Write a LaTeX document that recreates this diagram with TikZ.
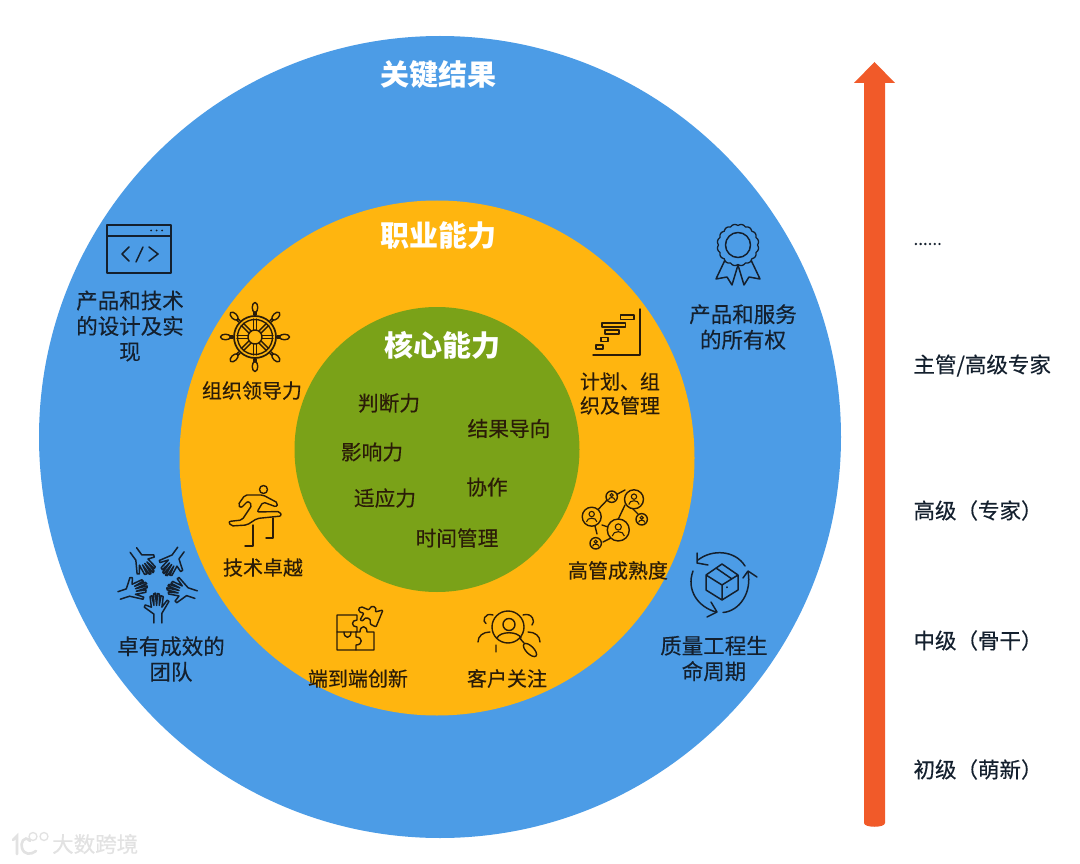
\documentclass[tikz,border=0pt]{standalone}
\usepackage{fontspec}
\setmainfont{Noto Sans CJK SC}[FakeBold=0.35,BoldFeatures={FakeBold=0}]
\definecolor{cblue}{HTML}{4C9CE6}
\definecolor{corange}{HTML}{FFB50F}
\definecolor{cgreen}{HTML}{7AA218}
\definecolor{carrow}{HTML}{F15A29}
\definecolor{navy}{HTML}{14202E}
\definecolor{brownk}{HTML}{2B1C08}
\definecolor{wm}{HTML}{E2E2E2}
\newcommand{\fs}[1]{\fontsize{#1}{#1}\selectfont}
\tikzset{
 ring/.style={circle,inner sep=0pt},
 title/.style={text=white,font=\fs{29}\bfseries},
 corelabel/.style={text=brownk,font=\fs{20.7}},
 midlabel/.style={text=brownk,font=\fs{20},align=center},
 outlabel/.style={text=navy,font=\fs{21.5},align=center},
 levellabel/.style={text=navy,font=\fs{21.5},anchor=west},
 navyicon/.style={draw=navy,line width=1.5pt,line join=round,line cap=round},
 brownicon/.style={draw=brownk,line width=1.4pt,line join=round,line cap=round},
 hand/.pic={
  \draw[navyicon] (-4,46)--(-4,36)--(-15,28)--(-14,25.5)--(-7,28)--(-8.5,16)--(-6.5,15)--(-4,26)
   --(-4.5,13)--(-2.5,12)--(-1,26)--(0,12.5)--(2,13)--(2,26)--(4,15)--(6.5,16)--(5,28)
   --(11,20)--(13,21.5)--(5,35)--(5,46);
 }
}
\newcommand{\netperson}[3]{% x y r
 \draw[brownicon,fill=corange] (#1,#2) circle (#3);
 \draw[brownk,line width=1.1pt] (#1,#2-0.28*#3) circle (0.28*#3);
 \draw[brownk,line width=1.1pt] (#1-0.55*#3,#2+0.55*#3) .. controls (#1-0.5*#3,#2+0.02*#3) and (#1+0.5*#3,#2+0.02*#3) .. (#1+0.55*#3,#2+0.55*#3);
}
\begin{document}
\begin{tikzpicture}[x=1pt,y=-1pt]
\useasboundingbox (0,0) rectangle (1080,864);
\fill[white] (0,0) rectangle (1080,864);
% rings
\node[ring,fill=cblue,minimum size=802pt] (outer) at (440,437) {};
\node[ring,fill=corange,minimum size=515pt] (middle) at (437,458) {};
\node[ring,fill=cgreen,minimum size=285pt] (core) at (437,449.5) {};
% titles
\node[title] (t1) at (438,75) {关键结果};
\node[title] (t2) at (438,236) {职业能力};
\node[title] (t3) at (442,345) {核心能力};
% core labels
\node[corelabel] (c1) at (389,403) {判断力};
\node[corelabel] (c2) at (509,428.5) {结果导向};
\node[corelabel] (c3) at (372,452) {影响力};
\node[corelabel] (c4) at (487,487) {协作};
\node[corelabel] (c5) at (385,498) {适应力};
\node[corelabel] (c6) at (457,538) {时间管理};
% middle labels
\node[midlabel] (m1) at (252,390.5) {组织领导力};
\node[midlabel] (m2) at (620,393.5) {计划、组\\[4pt]织及管理};
\node[midlabel] (m3) at (263,567.5) {技术卓越};
\node[midlabel] (m4) at (618,570.5) {高管成熟度};
\node[midlabel] (m5) at (358,678.5) {端到端创新};
\node[midlabel] (m6) at (507,678.5) {客户关注};
% outer labels
\node[outlabel] (o1) at (130,326) {产品和技术\\[4pt]的设计及实\\[4pt]现};
\node[outlabel] (o2) at (743,327) {产品和服务\\[4pt]的所有权};
\node[outlabel] (o3) at (171,659) {卓有成效的\\[4pt]团队};
\node[outlabel] (o4) at (714,658.5) {质量工程生\\[4pt]命周期};
% levels
\node[levellabel,font=\fs{17}] (l0) at (910,244) {......};
\node[levellabel] (l1) at (910,365.5) {主管/高级专家};
\node[levellabel] (l2) at (910,510.5) {高级（专家）};
\node[levellabel] (l3) at (910,640.5) {中级（骨干）};
\node[levellabel] (l4) at (910,769.5) {初级（萌新）};
% arrow
\fill[carrow] (874.5,62)--(895,83)--(885,83)--(885,823) .. controls (885,828) and (864,828) .. (864,823)--(864,83)--(854,83)--cycle;
% code icon
\draw[navyicon] (107,225) rectangle (171,273) (107,236)--(171,236);
\draw[navyicon] (129,247)--(122,254)--(129,261) (143,247)--(136,262) (149,247)--(158,254)--(149,261);
\foreach \x in {151,156.5,162} \fill[navy] (\x,230.5) circle (1pt);
% wheel
\begin{scope}[shift={(255,337)}]
 \foreach \a in {0,45,...,315}{
  \draw[brownicon,rotate=\a] (7,-1.5)--(18,-1.5) (7,1.5)--(18,1.5);
  \draw[brownicon,rotate=\a] (22,-1)--(25,-1) (22,1)--(25,1);
  \draw[brownicon,rotate=\a] (29.5,0) ellipse (5 and 2.8);
 }
 \draw[brownicon,line width=1.7pt] (0,0) circle (21);
 \draw[brownicon] (0,0) circle (17.5);
 \draw[brownicon,fill=corange] (0,0) circle (7);
\end{scope}
% medal
\draw[navyicon] (725,260)--(716,279)--(727,277)--(732,285)--(738,265)--(744,285)--(749,277)--(760,279)--(751,260);
\begin{scope}[shift={(738,245)}]
 \draw[navyicon,line width=1.3pt,fill=cblue] plot[domain=0:360,samples=161,smooth] (\x:{19.5+1.3*abs(sin(8*\x))}) -- cycle;
 \draw[navyicon] (0,0) circle (12.5);
\end{scope}
% stairs
\draw[brownicon] (640,309)--(640,355)--(593,355);
\draw[brownicon,line width=1.1pt] (620.5,315) rectangle (634,319.5) (602,323) rectangle (625.5,327) (605,330) rectangle (619,334) (601,337.5) rectangle (608,341.5) (596,345) rectangle (603,349);
% runner
\draw[brownicon] (263.5,489.5) circle (4);
\draw[brownicon,rounded corners=2pt] (238,505)--(245,495)--(263,495)--(278,503)--(276.5,507)--(263,502)--(257,512)--(280,511.5)--(281.5,516)--(257,518.5)--(247,525)--(231,526)--(228.5,521.5)--(242,520)--(252,505)--(248,501)--(241,508)--cycle;
\draw[brownicon] (253,525)--(253,546)--(245,546) (273,518)--(273,538)--(266,538);
% hands
\foreach \a in {0,72,144,216,288}
 \pic[rotate=\a,scale=0.88] at (157.5,582.5) {hand};
% puzzle
\draw[brownicon] (337,615)--(357,615)--(357,620) .. controls (351,620) and (351,627) .. (357,627)--(357,632)--(337,632)--cycle;
\draw[brownicon] (337,632)--(337,650)--(356,650)--(356,645) .. controls (363,645) and (363,637) .. (356,637)--(356,632)
 (344,632) .. controls (344,639) and (351,639) .. (351,632);
\draw[brownicon] (356,650)--(374,650)--(374,632)--(367,632) .. controls (367,625) and (360,625) .. (360,632)--(356,632);
\draw[brownicon,rounded corners=1pt] (362,607)--(369,610) .. controls (371,604) and (378,607) .. (375,612)--(383,610)--(376,627)--(370,624) .. controls (372,618) and (365,616) .. (363,621)--(360,620)--(364,613) .. controls (358,613) and (357,607) .. (362,607);
% customer focus
\draw[brownicon] (508,627) circle (16);
\draw[brownicon] (509,624.5) circle (6);
\draw[brownicon] (497,638) .. controls (500,631) and (518,631) .. (521,638);
\draw[brownicon,rotate around={-45:(530,650)}] (530,650) ellipse (8.5 and 3.8);
\draw[brownicon] (520,638.5)--(524,643);
\draw[brownicon] (493,615) .. controls (484,612) and (482,622) .. (486,623.5) (490,632) .. controls (483,632) and (478,636) .. (478,642) (496,645)--(496,652);
\draw[brownicon] (523,615) .. controls (532,612) and (536,622) .. (532,625) (528,632) .. controls (535,632) and (540,636) .. (540,642);
% network
\draw[brownicon] (591,517)--(610,497) (612,497)--(625,490) (625,505)--(615,526) (632,508)--(638,514) (602,525)--(611,528) (594,522)--(597,534) (603,542)--(613,537);
\netperson{591.7}{516.7}{9.5}
\netperson{634}{499.3}{9.5}
\netperson{618.3}{530}{11}
\netperson{611.7}{496.7}{5.7}
\netperson{641.7}{519.3}{5.7}
\netperson{595.7}{543.3}{5.7}
% cycle icon
\draw[navyicon] (722,564)--(738,575)--(722,585)--(706,575)--cycle (706,575)--(706,590)--(722,600)--(738,590)--(738,575) (722,585)--(722,600) (716,568)--(732,579);
\draw[navyicon] (727,587)--(727,587.5);
\draw[navyicon] (698,560) .. controls (712,549) and (735,550) .. (745,566);
\draw[navyicon] (697,553)--(697,563)--(708,565);
\draw[navyicon] (723,612.5) .. controls (740,611) and (752,592) .. (748,572);
\draw[navyicon] (743,578)--(748,571)--(757,577);
\draw[navyicon] (693,571) .. controls (686,590) and (698,607) .. (716,612);
\draw[navyicon] (711,602)--(717,612)--(707,617);
% watermark
\draw[wm,line width=2.6pt,line cap=round] (13,840)--(17,836)--(17,854);
\draw[wm,line width=2.6pt,line cap=round] (30,841) .. controls (24,834) and (20,844) .. (22,848) .. controls (24,855) and (31,855) .. (36,851);
\draw[wm,line width=1.3pt] (33,836.5) circle (4) (44,836.5) circle (4);
\node[text=wm,font=\fs{21.5},anchor=west,inner sep=0pt] (wmark) at (52,844) {大数跨境};
\end{tikzpicture}
\end{document}
